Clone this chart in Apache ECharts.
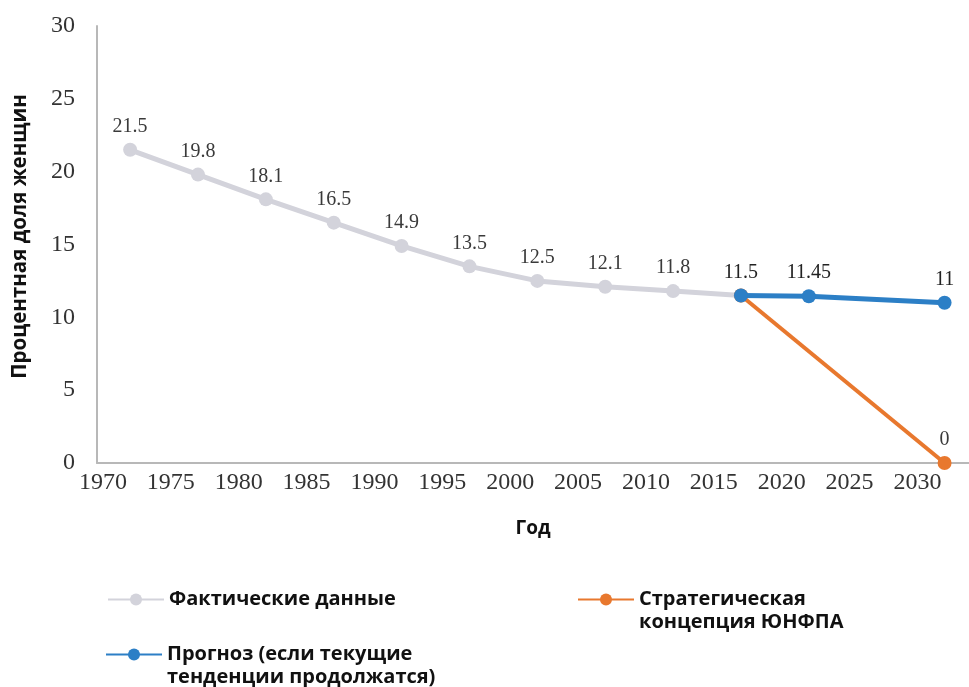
<!DOCTYPE html>
<html>
<head>
<meta charset="utf-8">
<script src="https://cdn.jsdelivr.net/npm/echarts@6/dist/echarts.min.js"></script>
<style>
  html, body { margin: 0; padding: 0; background: #fff; }
  #chart { width: 969px; height: 687px; }
</style>
</head>
<body>
<div id="chart"></div>
<script>
const yearTicks = [1970, 1975, 1980, 1985, 1990, 1995, 2000, 2005, 2010, 2015, 2020, 2025, 2030]
const actualYears = [1972, 1977, 1982, 1987, 1992, 1997, 2002, 2007, 2012, 2017]
const actualValues = [21.5, 19.8, 18.1, 16.5, 14.9, 13.5, 12.5, 12.1, 11.8, 11.5]
const forecastYears = [2017, 2022, 2032]
const forecastValues = [11.5, 11.45, 11]
const strategyYears = [2017, 2032]
const strategyValues = [11.5, 0]

const serif = '"Liberation Serif", "DejaVu Serif", serif'
const sans = '"Open Sans", "Noto Sans", sans-serif'

const pairs = (xs, ys) => xs.map((x, i) => [x, ys[i]])

const chart = echarts.init(document.getElementById('chart'))

const labelStyle = {
  show: true,
  position: 'top',
  distance: 6,
  fontFamily: serif,
  fontSize: 20,
  color: '#3a3a3a'
}

const legendBase = {
  orient: 'vertical',
  itemWidth: 56,
  itemHeight: 15,
  itemGap: 8,
  textStyle: { fontFamily: sans, fontSize: 20, fontWeight: 'bold', color: '#111', lineHeight: 23 }
}

// two-line entries get an empty first line so the icon sits by the first text line
const firstLineIcon = name => '\n' + name

const option = {
  animation: false,
  grid: { left: 97, right: 0, top: 26, bottom: 224, outerBoundsMode: 'none' },
  xAxis: {
    type: 'value',
    min: 1969.56,
    max: 2033.8,
    name: 'Год',
    nameLocation: 'middle',
    nameGap: 56,
    nameTextStyle: { fontFamily: sans, fontSize: 19, fontWeight: 'bold', color: '#111' },
    axisLine: { lineStyle: { color: '#b8b8b8', width: 2 } },
    axisTick: { show: false },
    splitLine: { show: false },
    axisLabel: {
      customValues: yearTicks,
      formatter: v => String(v),
      fontFamily: serif,
      fontSize: 24,
      color: '#333',
      margin: 8
    }
  },
  yAxis: {
    type: 'value',
    min: 0,
    max: 30,
    interval: 5,
    name: 'Процентная доля женщин',
    nameLocation: 'middle',
    nameGap: 66,
    nameRotate: 90,
    nameTextStyle: { fontFamily: sans, fontSize: 20.5, fontWeight: 'bold', color: '#111', padding: [0, 0, 0, 16] },
    axisLine: { show: true, lineStyle: { color: '#b8b8b8', width: 2 } },
    axisTick: { show: false },
    splitLine: { show: false },
    axisLabel: { fontFamily: serif, fontSize: 24, color: '#333', margin: 22 }
  },
  legend: [
    Object.assign({}, legendBase, { left: 102, top: 583, data: ['Фактические данные'] }),
    Object.assign({}, legendBase, { left: 572, top: 560, formatter: firstLineIcon, data: ['Стратегическая\nконцепция ЮНФПА'] }),
    Object.assign({}, legendBase, { left: 100, top: 615, formatter: firstLineIcon, data: ['Прогноз (если текущие\nтенденции продолжатся)'] })
  ],
  series: [
    {
      name: 'Фактические данные',
      type: 'line',
      data: pairs(actualYears, actualValues),
      symbol: 'circle',
      symbolSize: 14,
      lineStyle: { color: '#d3d3db', width: 5 },
      itemStyle: { color: '#d3d3db' },
      label: Object.assign({}, labelStyle, {
        formatter: p => (p.dataIndex === actualYears.length - 1 ? '' : String(p.value[1]))
      }),
      z: 2
    },
    {
      name: 'Стратегическая\nконцепция ЮНФПА',
      type: 'line',
      data: pairs(strategyYears, strategyValues),
      symbol: 'circle',
      symbolSize: 14,
      lineStyle: { color: '#e8782e', width: 4 },
      itemStyle: { color: '#e8782e' },
      label: Object.assign({}, labelStyle, {
        formatter: p => (p.dataIndex === 0 ? '' : String(p.value[1]))
      }),
      z: 3
    },
    {
      name: 'Прогноз (если текущие\nтенденции продолжатся)',
      type: 'line',
      data: pairs(forecastYears, forecastValues),
      symbol: 'circle',
      symbolSize: 14,
      lineStyle: { color: '#2c7fc6', width: 5 },
      itemStyle: { color: '#2c7fc6' },
      label: Object.assign({}, labelStyle, {
        formatter: p => String(p.value[1]),
        color: '#222'
      }),
      z: 4
    }
  ]
}

chart.setOption(option)
</script>
</body>
</html>
